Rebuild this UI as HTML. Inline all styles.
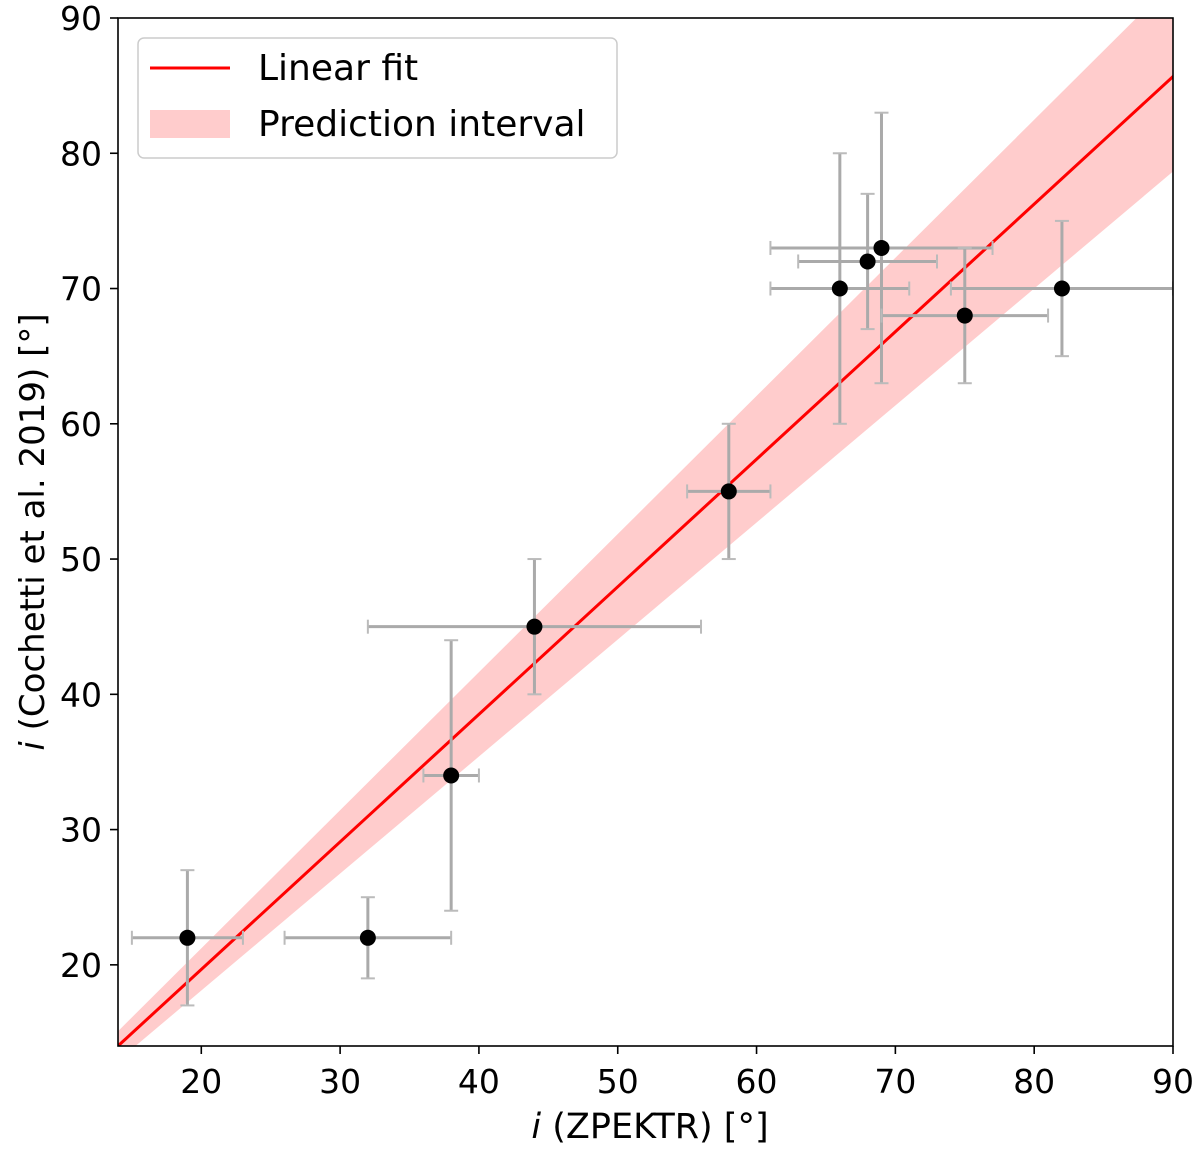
<!DOCTYPE html>
<html><head><meta charset="utf-8"><style>
body{margin:0;background:#fff}
text{font-family:"DejaVu Sans","Liberation Sans",sans-serif;fill:#000}
</style></head><body>
<svg id="chart" width="1200" height="1149">
<defs><clipPath id="clip"><rect x="118" y="18" width="1055" height="1028"/></clipPath></defs>
<g id="band" clip-path="url(#clip)"></g>
<g id="marks" clip-path="url(#clip)"></g>
<rect x="118" y="18" width="1055" height="1028" fill="none" stroke="#000" stroke-width="1.6"/>
<g id="axes"></g>
<text x="650" y="1138" font-size="35" text-anchor="middle"><tspan font-style="italic">i</tspan> (ZPEKTR) [°]</text>
<text transform="translate(44,532) rotate(-90)" font-size="34" text-anchor="middle"><tspan font-style="italic">i</tspan> (Cochetti et al. 2019) [°]</text>
<g>
<rect x="138" y="38" width="479" height="120" rx="6" fill="#fff" fill-opacity="0.8" stroke="#ccc" stroke-width="1.5"/>
<line x1="150" y1="68" x2="230" y2="68" stroke="#f00" stroke-width="3"/>
<text x="258" y="80" font-size="36">Linear fit</text>
<rect x="150" y="110" width="80" height="28" fill="#ffcccc"/>
<text x="258" y="136" font-size="36">Prediction interval</text>
</g>
</svg>
<script>
const xs=[19,32,38,44,58,66,68,69,75,82];
const ys=[22,22,34,45,55,70,72,73,68,70];
const xLo=[15,26,36,32,55,61,63,61,69,74];
const xHi=[23,38,40,56,61,71,73,77,81,90];
const yLo=[17,19,24,40,50,60,67,63,63,65];
const yHi=[27,25,44,50,60,80,77,83,73,75];
const fitSlope=0.943, fitIntercept=0.8, bandFrac=0.078;
const xTicks=[20,30,40,50,60,70,80,90];
const yTicks=[20,30,40,50,60,70,80,90];
const X=v=>118+(v-14)*(1055/76);
const Y=v=>1046-(v-14)*(1028/76);
const NS='http://www.w3.org/2000/svg';
function mk(t,a,p){const e=document.createElementNS(NS,t);for(const k in a)e.setAttribute(k,a[k]);p.appendChild(e);return e;}
const band=document.getElementById('band'),marks=document.getElementById('marks'),axes=document.getElementById('axes');
const f=x=>fitIntercept+fitSlope*x;
const x0=10,x1=95;
const bp=mk('polygon',{points:[[X(x0),Y(f(x0)+bandFrac*x0)],[X(x1),Y(f(x1)+bandFrac*x1)],[X(x1),Y(f(x1)-bandFrac*x1)],[X(x0),Y(f(x0)-bandFrac*x0)]].map(p=>p.join(',')).join(' '),fill:'#ffcccc'},band);


const fl=mk('line',{x1:X(x0),y1:Y(f(x0)),x2:X(x1),y2:Y(f(x1)),stroke:'#f00','stroke-width':3},band);


const st={stroke:'#aaa','stroke-width':3};
xs.forEach((x,i)=>{
  const g=mk('g',{},marks);
  
  
  const y=ys[i];
  mk('line',{x1:X(xLo[i]),y1:Y(y),x2:X(xHi[i]),y2:Y(y),...st},g);
  mk('line',{x1:X(x),y1:Y(yLo[i]),x2:X(x),y2:Y(yHi[i]),...st},g);
  [xLo[i],xHi[i]].forEach(v=>mk('line',{x1:X(v),y1:Y(y)-7,x2:X(v),y2:Y(y)+7,stroke:'#bbb','stroke-width':2},g));
  [yLo[i],yHi[i]].forEach(v=>mk('line',{x1:X(x)-7,y1:Y(v),x2:X(x)+7,y2:Y(v),stroke:'#bbb','stroke-width':2},g));
  mk('circle',{cx:X(x),cy:Y(y),r:8,fill:'#000'},g);
});
xTicks.forEach(t=>{
  mk('line',{x1:X(t),y1:1046,x2:X(t),y2:1054,stroke:'#000','stroke-width':1.6},axes);
  const tx=mk('text',{x:X(t),y:1093,'font-size':33,'text-anchor':'middle'},axes);tx.textContent=t;
  
  
});
yTicks.forEach(t=>{
  mk('line',{x1:110,y1:Y(t),x2:118,y2:Y(t),stroke:'#000','stroke-width':1.6},axes);
  const tx=mk('text',{x:102,y:Y(t)+12,'font-size':33,'text-anchor':'end'},axes);tx.textContent=t;
  
  
});
</script>
</body></html>
